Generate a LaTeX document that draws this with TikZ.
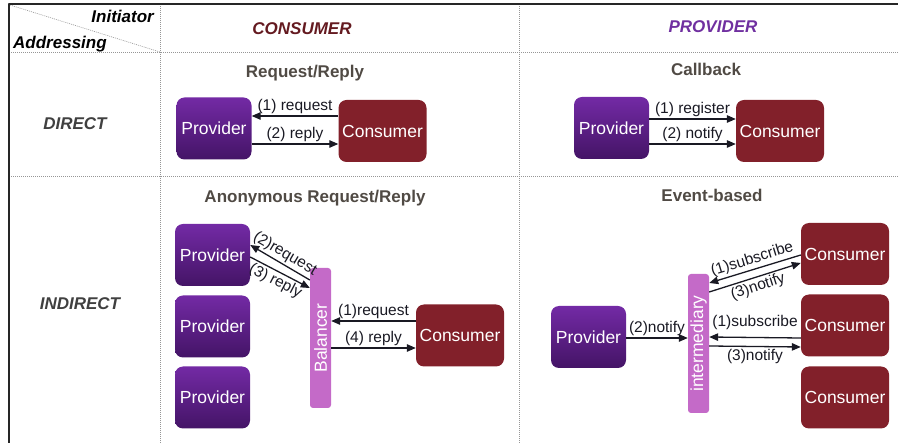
\documentclass[tikz,border=0pt]{standalone}
\usepackage{fontspec}
\setmainfont{Liberation Sans}
\usetikzlibrary{arrows.meta}
\definecolor{provtop}{RGB}{115,42,165}
\definecolor{provbot}{RGB}{68,20,102}
\definecolor{consred}{RGB}{130,32,42}
\definecolor{midpink}{RGB}{196,106,200}
\definecolor{headred}{RGB}{100,26,32}
\definecolor{headpurple}{RGB}{112,48,160}
\definecolor{titlegray}{RGB}{80,74,68}
\definecolor{rowgray}{RGB}{64,64,64}
\definecolor{gridgray}{RGB}{150,150,150}
\definecolor{labblack}{RGB}{25,25,35}
\begin{document}
\begin{tikzpicture}[line join=round,>={Triangle[length=9pt,width=7.5pt]},x=1pt,y=-1pt]
    \tikzset{
        boxfont/.style={font=\fontsize{17.5}{20}\selectfont},
        prov/.style={boxfont,rounded corners=8pt,top color=provtop,bottom color=provbot,text=white,minimum width=75pt,minimum height=62pt,inner sep=0pt},
        cons/.style={boxfont,rounded corners=8pt,fill=consred,text=white,minimum width=88pt,minimum height=62pt,inner sep=0pt},
        mid/.style={boxfont,rounded corners=3pt,fill=midpink,text=white,minimum height=21pt,inner sep=0pt,rotate=90},
        head/.style={font=\bfseries\itshape\fontsize{17}{20}\selectfont,anchor=base,inner sep=0pt},
        title/.style={font=\bfseries\fontsize{17}{20}\selectfont,text=titlegray,anchor=base,inner sep=0pt},
        lab/.style={font=\fontsize{15.5}{18}\selectfont,text=labblack,inner sep=2pt},
        flow/.style={->,line width=1.3pt,labblack},
        grid/.style={gridgray,line width=0.8pt,dash pattern=on 1pt off 1pt}
    }
    \useasboundingbox (0,0) rectangle (898,443);
    \draw[grid] (9,52) -- (898,52) (9,176) -- (898,176) (160,4) -- (160,443) (519,4) -- (519,443);
    \draw[grid,line width=0.6pt] (10,5) -- (160,52);
    \draw[line width=1.6pt,black!85] (898,4) -- (9,4) -- (9,443);
    \node[head,anchor=base east] (initiator) at (154,22.5) {Initiator};
    \node[head,anchor=base west] (addressing) at (13,48.5) {Addressing};
    \node[head,text=headred] (consumerhead) at (302,35) {CONSUMER};
    \node[head,text=headpurple] (providerhead) at (713,33) {PROVIDER};
    \node[head,text=rowgray] (direct) at (75,130) {DIRECT};
    \node[head,text=rowgray] (indirect) at (80,310) {INDIRECT};
    \node[title] (reqrep) at (305,78) {Request/Reply};
    \node[title] (callback) at (706,76) {Callback};
    \node[title] (anonreq) at (315,203) {Anonymous Request/Reply};
    \node[title] (eventbased) at (712,202) {Event-based};
    % direct
    \node[prov] (provA) at (214,128.5) {Provider};
    \node[cons] (consA) at (382.5,131) {Consumer};
    \node[prov] (provB) at (611.5,128) {Provider};
    \node[cons] (consB) at (780,131) {Consumer};
    \draw[flow] ([yshift=15pt]consA.west) -- node[lab,above]{(1) request} ([yshift=12.5pt]provA.east);
    \draw[flow] ([yshift=-15.5pt]provA.east) -- node[lab,above]{(2) reply} ([yshift=-13pt]consA.west);
    \draw[flow] ([yshift=9pt]provB.east) -- node[lab,above]{(1) register} ([yshift=12pt]consB.west);
    \draw[flow] ([yshift=-16pt]provB.east) -- node[lab,above]{(2) notify} ([yshift=-13pt]consB.west);
    % indirect
    \node[prov] (provL1) at (212.5,255) {Provider};
    \node[prov] (provL2) at (212.5,326.5) {Provider};
    \node[prov] (provL3) at (212.5,397.5) {Provider};
    \node[mid,minimum width=140pt] (bal) at (320.5,338) {Balancer};
    \node[cons] (consC) at (460,335.5) {Consumer};
    \draw[flow,<-] ([yshift=10pt]provL1.east) -- node[lab,above,sloped]{(2)request} ([yshift=58pt]bal.north);
    \draw[flow] ([yshift=-2pt]provL1.east) -- node[lab,below,sloped]{(3) reply} ([yshift=50pt]bal.north);
    \draw[flow] ([yshift=14.5pt]consC.west) -- node[lab,above]{(1)request} ([yshift=17pt]bal.south);
    \draw[flow] ([yshift=-10pt]bal.south) -- node[lab,above]{(4) reply} ([yshift=-12.5pt]consC.west);
    \node[prov] (provD) at (588.5,337) {Provider};
    \node[mid,minimum width=139pt] (inter) at (698.5,343.5) {intermediary};
    \node[cons] (cons1) at (845,254) {Consumer};
    \node[cons] (cons2) at (845,325.5) {Consumer};
    \node[cons] (cons3) at (845,397.5) {Consumer};
    \draw[flow] ([yshift=-1pt]provD.east) -- node[lab,above]{(2)notify} ([yshift=5.5pt]inter.north);
    \draw[flow,<-] ([yshift=60.5pt]inter.south) -- node[lab,above,sloped]{(1)subscribe} ([yshift=-1pt]cons1.west);
    \draw[flow] ([yshift=51.5pt]inter.south) -- node[lab,below,sloped]{(3)notify} ([yshift=-9pt]cons1.west);
    \draw[flow,<-] ([yshift=6.5pt]inter.south) -- node[lab,above,yshift=5pt]{(1)subscribe} ([yshift=-12.5pt]cons2.west);
    \draw[flow] ([yshift=-2.5pt]inter.south) -- node[lab,below]{(3)notify} ([yshift=-21.5pt]cons2.west);
\end{tikzpicture}
\end{document}
